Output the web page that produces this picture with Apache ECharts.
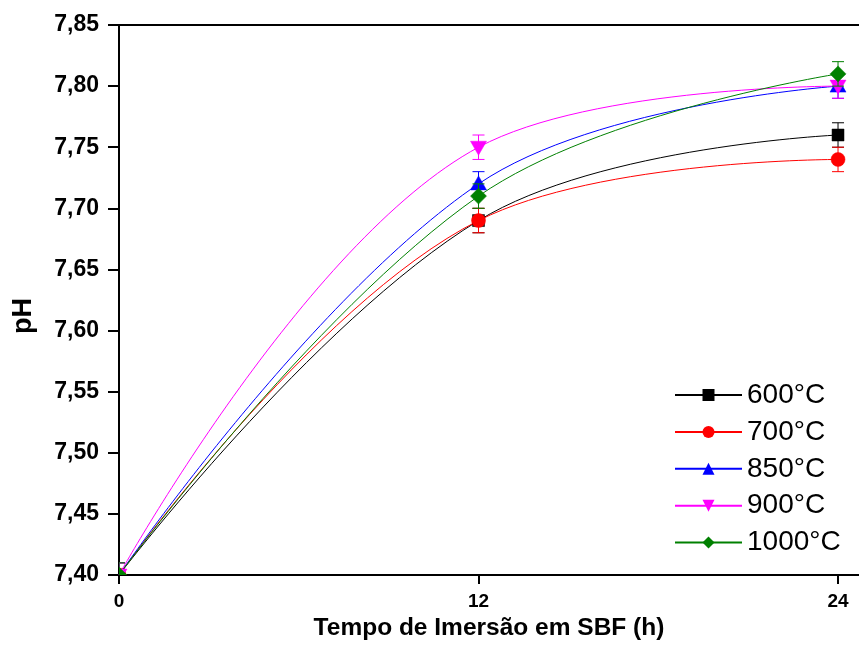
<!DOCTYPE html>
<html>
<head>
<meta charset="utf-8">
<script src="https://cdn.jsdelivr.net/npm/echarts@6/dist/echarts.min.js"></script>
<style>
  html, body { margin: 0; padding: 0; background: #fff; }
  #chart { width: 859px; height: 646px; }
</style>
</head>
<body>
<div id="chart"></div>
<script>
// immersion time (h) and pH readings per calcination temperature
const times = [0, 12, 24];
const names = ["600°C", "700°C", "850°C", "900°C", "1000°C"];
const ph600 = [7.40, 7.69, 7.76];
const ph700 = [7.40, 7.69, 7.74];
const ph850 = [7.40, 7.72, 7.80];
const ph900 = [7.40, 7.75, 7.80];
const ph1000 = [7.40, 7.71, 7.81];
const err600 = [0.01, 0.01, 0.01];
const err700 = [0.01, 0.01, 0.01];
const err850 = [0.01, 0.01, 0.01];
const err900 = [0.01, 0.01, 0.01];
const err1000 = [0.01, 0.01, 0.01];
const xTicks = [0, 12, 24];

const values = [ph600, ph700, ph850, ph900, ph1000];
const errors = [err600, err700, err850, err900, err1000];
const colors = ["#000000", "#ff0000", "#0000ff", "#ff00ff", "#008000"];
const symbols = ["rect", "circle", "triangle", "triangle", "diamond"];
const rotates = [0, 0, 0, 180, 0];

const font = "Liberation Sans, Arial, sans-serif";

// marker outline drawn by the custom series (relative to the point)
const markerShape = (kind, cx, cy, color) => {
  const st = { fill: color, stroke: color, lineWidth: 0.5 };
  if (kind === 0) return { type: "rect", shape: { x: cx - 6, y: cy - 6, width: 12, height: 12 }, style: st };
  if (kind === 1) return { type: "circle", shape: { cx: cx, cy: cy, r: 7 }, style: st };
  if (kind === 2) return { type: "polygon", shape: { points: [[cx, cy - 8], [cx + 8, cy + 6], [cx - 8, cy + 6]] }, style: st };
  if (kind === 3) return { type: "polygon", shape: { points: [[cx, cy + 8], [cx + 8, cy - 6], [cx - 8, cy - 6]] }, style: st };
  return { type: "polygon", shape: { points: [[cx, cy - 8], [cx + 8, cy], [cx, cy + 8], [cx - 8, cy]] }, style: st };
};

const lineSeries = values.map((v, i) => ({
  name: names[i],
  type: "line",
  smooth: 0.4,
  showSymbol: false,
  symbol: symbols[i],
  symbolRotate: rotates[i],
  color: colors[i],
  lineStyle: { width: 1, color: colors[i] },
  data: times.map((t, j) => [t, v[j]]),
  z: 2
}));

const pointSeries = values.map((v, i) => ({
  name: "pts" + i,
  type: "custom",
  clip: true,
  z: 3,
  data: times.map((t, j) => [t, v[j], errors[i][j]]),
  renderItem: (params, api) => {
    const x = api.value(0), y = api.value(1), e = api.value(2);
    const c = api.coord([x, y]);
    const hi = api.coord([x, y + e]);
    const lo = api.coord([x, y - e]);
    const ls = { stroke: colors[i], lineWidth: 1 };
    return {
      type: "group",
      children: [
        { type: "line", shape: { x1: c[0], y1: hi[1], x2: c[0], y2: lo[1] }, style: ls },
        { type: "line", shape: { x1: c[0] - 6, y1: hi[1], x2: c[0] + 6, y2: hi[1] }, style: ls },
        { type: "line", shape: { x1: c[0] - 6, y1: lo[1], x2: c[0] + 6, y2: lo[1] }, style: ls },
        markerShape(i, c[0], c[1], colors[i])
      ]
    };
  }
}));

const chart = echarts.init(document.getElementById("chart"));
chart.setOption({
  animation: false,
  backgroundColor: "#ffffff",
  grid: { left: 119, top: 25, right: 0, bottom: 71 },
  legend: {
    data: names,
    orient: "vertical",
    left: 674,
    top: 381,
    padding: 0,
    itemWidth: 67,
    itemHeight: 15,
    itemGap: 8.9,
    textStyle: { fontFamily: font, fontSize: 28, color: "#000", lineHeight: 28, padding: [0, 0, 0, 0] }
  },
  graphic: [{
    type: "text",
    left: 10,
    top: 298,
    rotation: Math.PI / 2,
    style: { text: "pH", font: "bold 27px " + font, fill: "#000" }
  }],
  xAxis: [{
    type: "value",
    min: 0,
    max: 24.7,
    name: "Tempo de Imersão em SBF (h)",
    nameLocation: "middle",
    nameGap: 33,
    nameTextStyle: { fontFamily: font, fontSize: 24.5, fontWeight: "bold", color: "#000" },
    axisLine: { onZero: false, lineStyle: { color: "#000", width: 2 } },
    axisTick: { inside: false, length: 9, lineStyle: { color: "#000", width: 2 }, customValues: xTicks },
    axisLabel: { margin: 17, fontFamily: font, fontSize: 19, fontWeight: "bold", color: "#000", customValues: xTicks },
    splitLine: { show: false }
  }, {
    type: "value",
    position: "top",
    min: 0,
    max: 24.7,
    axisLine: { show: true, onZero: false, lineStyle: { color: "#000", width: 2 } },
    axisTick: { show: false },
    axisLabel: { show: false },
    splitLine: { show: false }
  }],
  yAxis: {
    type: "value",
    min: 7.40,
    max: 7.85,
    interval: 0.05,
    axisLine: { show: true, lineStyle: { color: "#000", width: 2 } },
    axisTick: { show: true, length: 11, lineStyle: { color: "#000", width: 2 } },
    axisLabel: {
      margin: 20,
      fontFamily: font,
      fontSize: 23,
      fontWeight: "bold",
      color: "#000",
      formatter: (v) => v.toFixed(2).replace(".", ",")
    },
    splitLine: { show: false }
  },
  series: lineSeries.concat(pointSeries)
});
</script>
</body>
</html>
